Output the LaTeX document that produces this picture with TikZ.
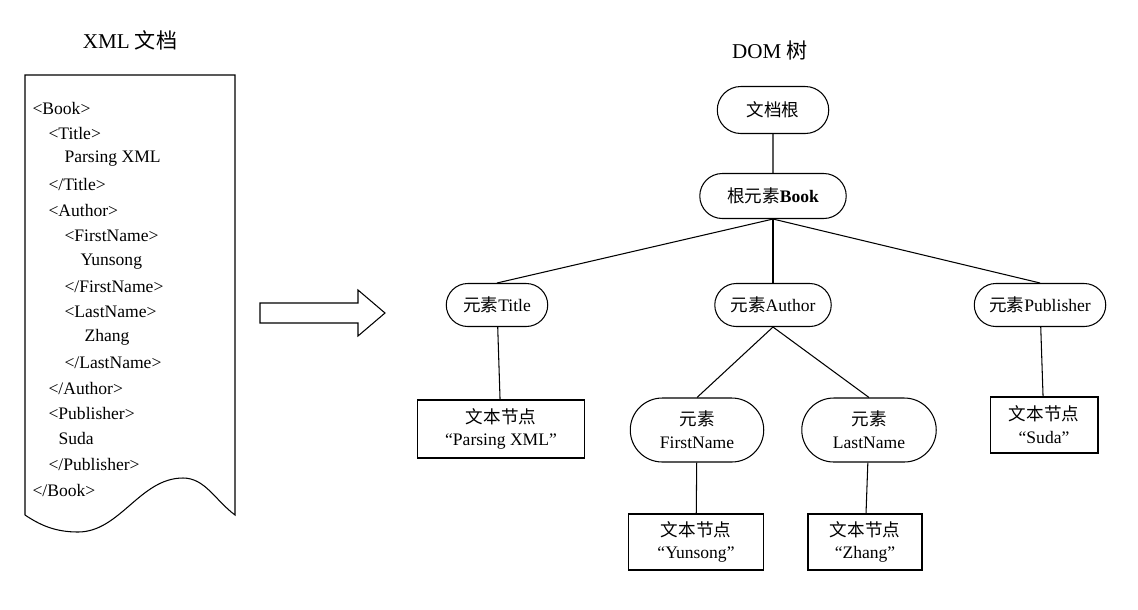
\documentclass[tikz,border=0pt]{standalone}
\usepackage{fontspec}
\setmainfont{Liberation Serif}
\newfontfamily\cjk{Noto Sans CJK SC}
\usetikzlibrary{shapes.misc}
\tikzset{
  every picture/.style={line width=0.6pt},
  stad/.style={rounded rectangle, draw, minimum height=0.86cm, inner sep=1pt, font=\fontsize{10}{12}\selectfont, align=center},
  txt/.style={rectangle, draw, inner sep=1pt, font=\fontsize{10}{13}\selectfont, align=center},
  xml/.style={anchor=west, font=\fontsize{10}{12}\selectfont, inner sep=0pt}
}
\begin{document}
\begin{tikzpicture}[x=0.02cm,y=-0.02cm]
\useasboundingbox (0,0) rectangle (1138,609);
% titles
\node (t1) at (130,40) {\fontsize{12}{14}\selectfont XML {\cjk 文档}};
\node (t2) at (770,50) {\fontsize{12}{14}\selectfont DOM {\cjk 树}};
% xml document
\draw (25,515) -- (25,75) -- (235,75) -- (235,515)
  .. controls (215,500) and (205,478) .. (183,478)
  .. controls (140,478) and (120,532) .. (78,532)
  .. controls (55,532) and (40,525) .. (25,515);
\node[xml] (l1) at (32,108) {<Book>};
\node[xml] (l2) at (48,133.5) {<Title>};
\node[xml] (l3) at (64,159) {Parsing XML};
\node[xml] (l4) at (48,184.5) {</Title>};
\node[xml] (l5) at (48,210) {<Author>};
\node[xml] (l6) at (64,236) {<FirstName>};
\node[xml] (l7) at (80,261.5) {Yunsong};
\node[xml] (l8) at (64,287) {</FirstName>};
\node[xml] (l9) at (64,312) {<LastName>};
\node[xml] (l10) at (84,337.5) {Zhang};
\node[xml] (l11) at (64,363) {</LastName>};
\node[xml] (l12) at (48,388) {</Author>};
\node[xml] (l13) at (48,413) {<Publisher>};
\node[xml] (l14) at (58,438.5) {Suda};
\node[xml] (l15) at (48,464) {</Publisher>};
\node[xml] (l16) at (32,490) {</Book>};
% hollow arrow
\draw (260,303) -- (358,303) -- (358,290) -- (385,313) -- (358,336) -- (358,323) -- (260,323) -- cycle;
% tree
\node[stad, minimum width=2.3cm, minimum height=0.94cm] (root) at (773,110) {\cjk 文档根};
\node[stad, minimum width=3cm, minimum height=0.9cm] (book) at (773,196) {{\cjk 根元素}\textbf{Book}};
\node[stad, minimum width=2.1cm] (title) at (497,305) {{\cjk 元素}Title};
\node[stad, minimum width=2.4cm] (author) at (773,305) {{\cjk 元素}Author};
\node[stad, minimum width=2.7cm] (pub) at (1040,305) {{\cjk 元素}Publisher};
\node[txt, minimum width=3.34cm, minimum height=1.16cm] (parse) at (501,429) {{\cjk 文本节点}\\“Parsing XML”};
\node[stad, minimum width=2.74cm, minimum height=1.28cm, font=\fontsize{10}{13}\selectfont] (first) at (697,430) {{\cjk 元素}\\FirstName};
\node[stad, minimum width=2.76cm, minimum height=1.28cm, font=\fontsize{10}{13}\selectfont] (last) at (869,430) {{\cjk 元素}\\LastName};
\node[txt, minimum width=2.16cm, minimum height=1.12cm] (suda) at (1044,425) {{\cjk 文本节点}\\“Suda”};
\node[txt, minimum width=2.7cm, minimum height=1.12cm] (yun) at (696,542) {{\cjk 文本节点}\\“Yunsong”};
\node[txt, minimum width=2.28cm, minimum height=1.12cm] (zhang) at (865,542) {{\cjk 文本节点}\\“Zhang”};
\draw (root) -- (book);
\draw (book.south) -- (title.north);
\draw (book.south) -- (author.north);
\draw (book.south) -- (pub.north);
\draw (title) -- (parse);
\draw (author.south) -- (first.north);
\draw (author.south) -- (last.north);
\draw (pub) -- (suda);
\draw (first) -- (yun);
\draw (last) -- (zhang);
\end{tikzpicture}
\end{document}
